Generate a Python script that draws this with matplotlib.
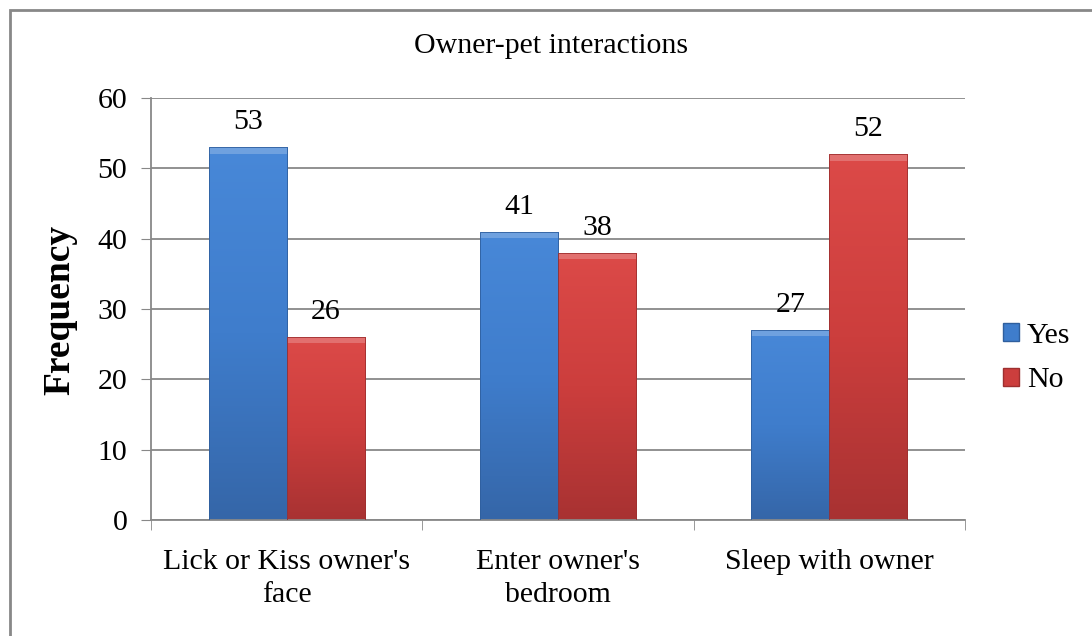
import numpy as np
import matplotlib.pyplot as plt
from matplotlib.patches import Rectangle
from matplotlib.colors import LinearSegmentedColormap

plt.rcParams['font.family'] = ['Liberation Serif', 'DejaVu Serif']

categories = ["Lick or Kiss owner's\nface", "Enter owner's\nbedroom", "Sleep with owner"]
yes_vals = [53, 41, 27]
no_vals = [26, 38, 52]
series_names = ['Yes', 'No']

blue_cmap = LinearSegmentedColormap.from_list('b', ['#4888d8', '#3f7dcc', '#3566a8'])
red_cmap = LinearSegmentedColormap.from_list('r', ['#dc4a48', '#cc3e3d', '#a83232'])
blue_edge = '#2f5f9e'
red_edge = '#9e2f2f'
FS = 21.5


def gradient_bar(ax, x, h, w, cmap, edge):
    rect = Rectangle((x, 0), w, h, facecolor='none', edgecolor=edge, linewidth=0.6, zorder=3)
    ax.add_patch(rect)
    grad = np.linspace(0, 1, 256).reshape(-1, 1)
    im = ax.imshow(grad, cmap=cmap, aspect='auto', extent=(x, x + w, 0, h),
                   origin='upper', zorder=2.5)
    im.set_clip_path(rect)
    # top bevel highlight
    ax.add_patch(Rectangle((x, h - 0.9), w, 0.9, facecolor='white', alpha=0.22,
                           edgecolor='none', zorder=2.8))
    return rect


fig = plt.figure(figsize=(10.92, 6.36), dpi=100)
ax = fig.add_axes([151 / 1092, 1 - 520 / 636, (965 - 151) / 1092, (520 - 98) / 636])

x = np.arange(len(categories))
w = 0.288
for i in x:
    gradient_bar(ax, i - w, yes_vals[i], w, blue_cmap, blue_edge)
    gradient_bar(ax, i, no_vals[i], w, red_cmap, red_edge)
    ax.annotate(str(yes_vals[i]), (i - w / 2, yes_vals[i]), xytext=(0, 13), textcoords='offset points',
                ha='center', va='baseline', fontsize=FS)
    ax.annotate(str(no_vals[i]), (i + w / 2, no_vals[i]), xytext=(0, 13), textcoords='offset points',
                ha='center', va='baseline', fontsize=FS)

ax.set_xlim(-0.5, len(categories) - 0.5)
ax.set_ylim(0, 60)
ax.set_yticks(range(0, 61, 10))
ax.tick_params(axis='y', labelsize=FS, length=7, color='#888888', pad=10)
ax.set_xticks(x)
ax.set_xticklabels(categories, fontsize=FS, linespacing=1.35)
ax.set_xticks(np.arange(-0.5, len(categories), 1), minor=True)
ax.tick_params(axis='x', which='major', length=0, pad=21)
ax.tick_params(axis='x', which='minor', length=7, color='#888888')
ax.grid(axis='y', color='#888888', linewidth=1.3, zorder=0)
ax.set_axisbelow(True)
for s in ['top', 'right']:
    ax.spines[s].set_visible(False)
for s in ['left', 'bottom']:
    ax.spines[s].set_color('#888888')
    ax.spines[s].set_linewidth(1.3)

fig.text(60 / 1092, 1 - 310 / 636, 'Frequency', rotation=90, ha='center', va='center',
         fontsize=27, fontweight='bold')
fig.text(551 / 1092, 1 - 46 / 636, 'Owner-pet interactions', ha='center', va='center', fontsize=FS)

# legend
handles = [Rectangle((0, 0), 1, 1, facecolor='#3f7dcc', edgecolor=blue_edge),
           Rectangle((0, 0), 1, 1, facecolor='#cc3e3d', edgecolor=red_edge)]
fig.legend(handles, series_names, loc='center left', bbox_to_anchor=(1003 / 1092, 1 - 358 / 636),
           frameon=False, fontsize=FS, handlelength=0.55, handleheight=0.55,
           handletextpad=0.25, labelspacing=0.62, borderaxespad=0, borderpad=0)

# outer chart border
fig.patches.append(Rectangle((10 / 1092, -0.1), 1.2, (626 / 636) + 0.1, transform=fig.transFigure,
                             facecolor='none', edgecolor='#888888', linewidth=2))

fig.savefig('out.png', dpi=100)
